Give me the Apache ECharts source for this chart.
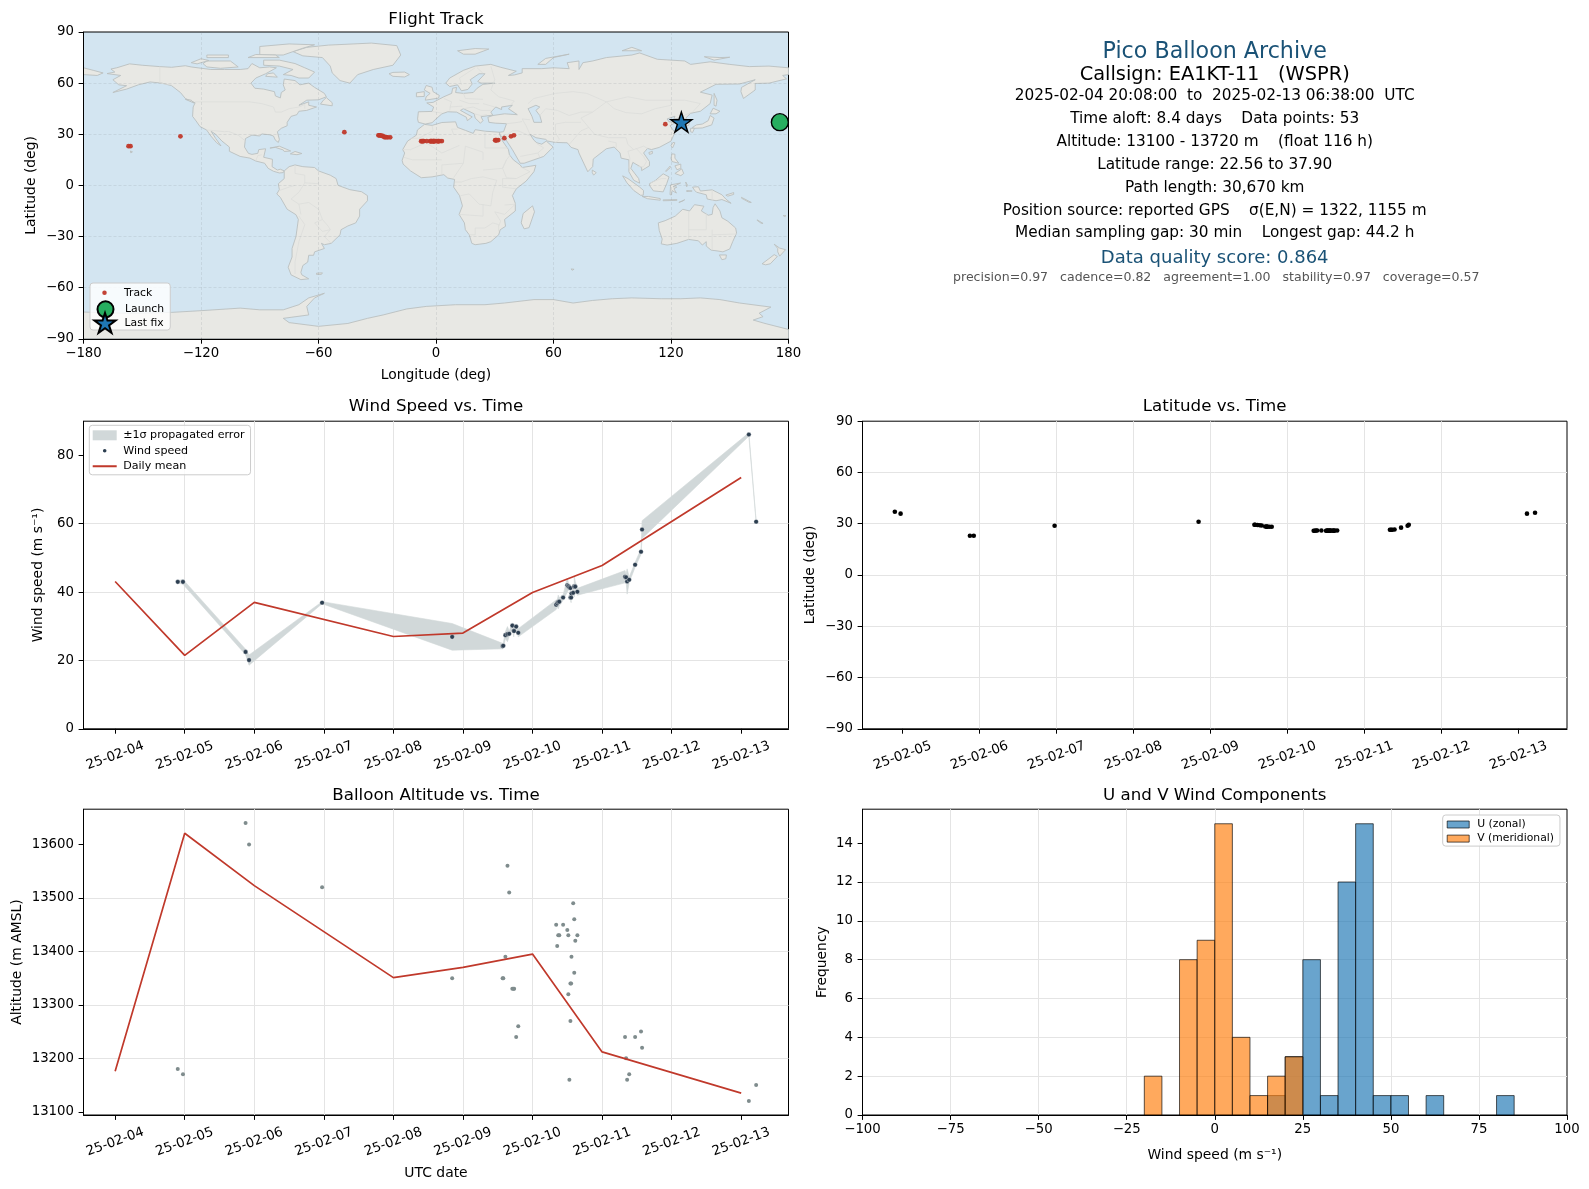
<!DOCTYPE html>
<html><head><meta charset="utf-8">
<script src="https://cdn.jsdelivr.net/npm/echarts@6/dist/echarts.min.js"></script>
<style>html,body{margin:0;padding:0;background:#fff}#c{width:1589px;height:1189px}</style>
</head><body><div id="c"></div>
<script>
// ---------- flight samples ----------
const sampleDays=[4.90,4.975,5.875,5.925,6.975,8.845,9.57,9.58,9.61,9.64,9.665,9.71,9.73,9.735,9.765,9.795,10.34,10.355,10.37,10.385,10.44,10.5,10.515,10.515,10.53,10.545,10.545,10.555,10.56,10.585,10.6,10.6,10.615,10.645,11.33,11.345,11.36,11.39,11.475,11.56,11.575,13.11,13.215];
const sampleLat=[37.0,35.9,23.0,23.0,28.8,31.2,29.4,29.4,29.3,29.1,29.0,28.4,28.3,28.3,28.2,28.2,25.9,25.9,26.0,26.0,26.0,25.9,25.9,26.0,26.0,25.9,25.9,25.9,26.0,26.0,25.9,25.9,26.0,26.0,26.5,26.5,26.5,26.6,27.7,28.8,29.4,35.9,36.4];
const sampleLon=[174,178,-157,-156,-130.5,-46.8,-29.4,-29,-28.4,-27.8,-27.2,-26.5,-25.9,-25.5,-24.6,-23.4,-7.6,-7,-6.6,-6.2,-4.7,-3,-2.6,-2.4,-2,-1.5,-1.3,-1,-.6,0,1,1.2,2,3,30.2,30.6,31,31.8,34.9,38.3,39.8,117.1,125.3];
const windSpeed=[43,43,22.5,20.1,36.9,26.9,24.2,24.3,27.4,27.7,27.8,30.2,28.7,28.6,29.9,28.1,36.3,36.7,37.1,37.2,38.4,42,41.7,41.7,41.4,41.2,38.4,38.4,39.6,39.8,41.6,41.6,41.6,40.1,44.5,44.3,43.1,43.6,48,51.8,58.3,86.1,60.6];
const windSigma=[.3,.7,.8,1.5,.3,3.9,.8,.8,1,2.2,.8,.8,1.8,.8,.8,1.2,1.4,1,2,1.2,.8,2,1.2,1,.8,.8,.8,1.5,.8,1,1.2,3,1.5,1,1.8,1,3.7,.8,.7,.8,2.6,.5,.2];
const altitude=[13180,13170,13640,13600,13520,13350,13350,13350,13390,13560,13510,13330,13330,13330,13240,13260,13450,13410,13430,13430,13450,13440,13430,13320,13160,13270,13340,13340,13390,13490,13460,13360,13420,13430,13240,13200,13160,13170,13240,13250,13220,13120,13150];
const meanWindDays=[4,5,6,8,9,10,11,13];
const meanWind=[43.1,21.5,37,27,28,39.9,47.8,73.5];
const meanAltDays=[4,5,6,8,9,10,11,13];
const meanAlt=[13176,13621,13523,13351,13370,13395,13212,13135];
const launchPoint=[175.6,37.1];
const lastFixPoint=[125.3,37.1];
// ---------- histogram bins: [left edge, right edge, count] ----------
const histU=[[15,20,1],[20,25,3],[25,30,8],[30,35,1],[35,40,12],[40,45,15],[45,50,1],[50,55,1],[60,65,1],[80,85,1]];
const histV=[[-20,-15,2],[-10,-5,8],[-5,0,9],[0,5,15],[5,10,4],[10,15,1],[15,20,2],[20,25,3]];
// ---------- tick labels ----------
const windDayTicks=[4,5,6,7,8,9,10,11,12,13];
const latDayTicks=[5,6,7,8,9,10,11,12,13];
const altTicks=[13100,13200,13300,13400,13500,13600];
const windTicks=[0,20,40,60,80];
const freqTicks=[0,2,4,6,8,10,12,14];
const dayLabel=d=>'25-02-'+String(d).padStart(2,'0');
const numLabel=v=>String(v).replace('-','\u2212');
// ---------- info panel ----------
const infoLines=[
 ['Pico Balloon Archive',52.6,22.2,'#1a5276'],
 ['Callsign: EA1KT-11   (WSPR)',74.8,19.4,'#000'],
 ['2025-02-04 20:08:00  to  2025-02-13 06:38:00  UTC',95.6,15.3,'#000'],
 ['Time aloft: 8.4 days    Data points: 53',119,15.3,'#000'],
 ['Altitude: 13100 - 13720 m    (float 116 h)',142,15.3,'#000'],
 ['Latitude range: 22.56 to 37.90',164.6,15.3,'#000'],
 ['Path length: 30,670 km',187.6,15.3,'#000'],
 ['Position source: reported GPS    σ(E,N) = 1322, 1155 m',210.6,15.3,'#000'],
 ['Median sampling gap: 30 min    Longest gap: 44.2 h',233,15.3,'#000'],
 ['Data quality score: 0.864',258.4,18,'#1a5276'],
 ['precision=0.97   cadence=0.82   agreement=1.00   stability=0.97   coverage=0.57',278.2,12.56,'#555']
];
// ---------- base map outlines (lon,lat) ----------
const northAmerica=[[-168,65.6],[-164,66.5],[-166,68.3],[-163,69],[-156.5,71.3],[-150,70.5],[-141,69.7],[-135,69.3],[-128,70.2],[-125,69.5],[-115,68],[-108,68],[-100,68],[-96,68.5],[-94,71.5],[-90,69],[-85,69.5],[-81.5,69],[-87,65.5],[-92,63],[-94.5,60],[-92.5,57],[-88,56.5],[-82.5,55],[-82,52.5],[-79.5,51.3],[-79,54.5],[-77,56],[-78,59],[-77.5,62.4],[-72,61.5],[-69.5,59],[-65,60],[-62,57.5],[-57,54],[-56,52],[-60,50.2],[-66,50],[-70,47],[-65,49],[-65,47],[-61,46],[-66,44],[-70,43.5],[-71,41.5],[-74,40.5],[-76,37],[-76,35],[-79,33.5],[-81,31.5],[-80,27],[-80.5,25.2],[-82,26.5],[-83,29],[-85,29.7],[-89,30.2],[-90,29],[-94,29.5],[-97.3,27.5],[-97.8,22.5],[-95.8,18.8],[-94,18.2],[-91,18.8],[-90.5,21],[-87,21.5],[-88,16.5],[-83.5,15.3],[-83.7,11],[-81,9],[-79.5,9.5],[-77.5,8.5],[-78,7.5],[-80,7.3],[-83,8.3],[-85.7,10],[-87.5,13],[-92,14.3],[-95,16],[-100,17],[-105.5,20],[-105.5,22.5],[-109.3,26],[-112.5,30],[-114.8,31.7],[-112.5,27.5],[-109.8,23.2],[-112,25],[-115,29],[-117.1,32.5],[-120.5,34.5],[-122.5,37.8],[-124.3,40.5],[-124,46],[-123,48.5],[-128,51],[-130.5,54.5],[-135,58.5],[-140,60],[-146,60.7],[-152,59],[-158,56.5],[-165,54.5],[-158,58.5],[-162,59],[-165,62],[-161,64.5]];
const southAmerica=[[-77.5,8.5],[-75,11],[-72,12],[-68,11],[-62,10.5],[-60,8.5],[-54,6],[-51,4],[-50,0],[-44,-2.5],[-38,-3.7],[-35,-6],[-35,-9],[-39,-14],[-39,-18],[-41,-22],[-45,-23.8],[-48.5,-26],[-49,-29],[-53.5,-34],[-57,-34.8],[-58.5,-34],[-57,-37],[-62,-39],[-62.5,-41],[-65,-41],[-65.5,-45],[-68,-47],[-69,-51],[-68.5,-52.5],[-65,-54.8],[-69,-55.3],[-74,-52.5],[-75.5,-48],[-73.5,-42],[-73.5,-37],[-71.5,-30],[-70.3,-20],[-71.5,-17.2],[-76,-14],[-79.5,-7],[-81.3,-5],[-80,-2.5],[-80.5,1],[-77.5,4]];
const africa=[[-5.9,35.8],[-2,35.2],[3,36.9],[10,37.3],[11,34],[15,32.3],[19,30.5],[20,32.7],[25,31.8],[32.4,31.2],[32.5,29.9],[34,26],[37,21],[37.5,18],[39.5,15],[43,12],[44,10.5],[51,11.8],[50,8],[46,2.5],[41,-2],[39,-6],[40.5,-10.5],[40.5,-15],[35,-20],[35.5,-24],[32.8,-26],[32,-29],[28,-33],[25.5,-34],[20,-34.8],[18.3,-34],[17,-29],[15,-26],[14.5,-22],[11.8,-17],[13.5,-12],[12,-6],[9,-1],[9.5,3.5],[6,4.3],[4,6.3],[-2,5],[-7.5,4.5],[-13,8.5],[-16.8,12.5],[-17.3,14.7],[-16,19],[-17,21],[-14.5,26],[-10,29.5],[-9.5,32.5]];
const eurasia=[[-9,37],[-9.4,39],[-9,43.2],[-2,43.4],[-1.2,46],[-4.7,48.4],[-1.5,48.7],[1.5,50.5],[4,52],[8,54],[8.5,57],[10.5,57.5],[10,54.5],[14,54],[19,54.5],[21,57],[24,59.3],[30,60],[23,60],[21.3,61],[25,65.5],[22,65.5],[17.5,62],[18.5,59.5],[16.3,56.3],[13,55.5],[11,59],[7,58],[5,60],[7,63],[14,67.5],[20,70],[28,71],[33,69.3],[41,67],[37,64.5],[40,64.8],[44,66],[44,68.5],[54,68.5],[60,69],[68,68.5],[67,72],[73,73],[73,68],[75,72],[80,73],[87,75],[100,76.5],[104,77.7],[113,74],[127,73],[130,71],[140,72.5],[150,71],[160,69.7],[170,70],[180,69],[180,65],[177,64.5],[179,62.5],[170,60],[163,59.8],[163,56],[157,51],[155.7,55],[156,57.5],[163,62],[155,59.5],[143,59.3],[135,54.7],[141,53],[140,48],[135,43.5],[130,42.3],[127.5,39.5],[129.5,37],[129,35.2],[126.5,34.5],[126.5,37.5],[125,39.6],[121.5,39],[122,40.6],[118,39],[119,37.3],[122.5,37],[119.5,35],[122,31],[120,26],[114,22.3],[110,21],[108,21.7],[106,19],[109,14],[109,11.5],[105,8.7],[105,10.5],[100.5,13.5],[99.5,10],[103.5,4],[104,1.3],[101,3],[98.5,8],[98.5,15],[94.5,16],[94,19],[91,22.5],[87,21.5],[80.3,15.5],[80,11],[77.5,8],[73,19],[72.5,21],[69,22.3],[67,25],[61,25.2],[57,26],[56,27],[51,28],[48,30],[50,26.5],[51.5,25],[54,24.2],[56.3,26],[59.8,22.5],[55,17],[45,13],[43,13],[39,21],[35,28],[34.7,29.5],[34.2,27.8],[32.6,29.9],[32.4,31.2],[34.5,31.5],[36,36.2],[30.5,36.5],[27,37],[26.5,40],[29,41],[35,42],[41.5,41.5],[37,45],[39,47],[33.5,46],[33.5,44.5],[30.5,46],[28,43],[29,41.2],[26,40.8],[23,40.3],[24,38],[22.7,36.5],[20,39.5],[19.5,42],[14,45],[12.5,44],[18.5,40.2],[16,38],[15.5,40],[10.5,43],[6,43.2],[3,42],[0,39],[-2,36.8],[-5.5,36]];
const chukotkaWest=[[-180,65],[-173,64.5],[-170,66],[-175,67.5],[-180,69]];
const greenland=[[-73,78.5],[-66,81],[-55,82.3],[-33,83.5],[-20,82],[-18,76.5],[-22,70.5],[-32,68],[-40,65],[-44,60],[-49,61.5],[-53,66],[-54,70],[-58,75],[-68,76]];
const australia=[[113.5,-22],[114,-26.5],[115.5,-31.5],[115,-34.3],[118,-35],[123,-34],[129,-31.7],[134,-32.5],[136,-35],[138,-33],[138,-35.6],[140.5,-38],[144,-38.5],[146.5,-39],[150,-37.3],[151.5,-33],[153.5,-28],[153,-25],[149,-21],[146,-19],[145,-15],[142.5,-10.8],[141.5,-13],[141,-17],[139,-17.5],[135.5,-15],[136.8,-12.2],[132,-11.3],[129.5,-15],[126,-14],[122.2,-18],[117,-20.7]];
const antarctica=[[-180,-90],[-180,-74.3],[-160,-75],[-150,-75],[-135,-74.5],[-120,-73.5],[-100,-72],[-90,-73],[-78,-73],[-70,-70],[-65,-66],[-57,-63.3],[-62,-66],[-66,-71],[-65,-76],[-78,-78],[-75,-80.5],[-60,-82.7],[-45,-81],[-35,-78],[-27,-76],[-15,-72.5],[-5,-71],[10,-70],[25,-70],[35,-69],[50,-67],[60,-67],[70,-69],[80,-67.5],[90,-66.5],[100,-66],[115,-66.5],[125,-66.5],[135,-66],[145,-67],[155,-69],[171,-71.4],[165,-75],[167,-77],[162,-79],[168,-81],[180,-84.5],[180,-90]];
const islands=[
 [[-80,73.5],[-72,71.5],[-67,69],[-62,66.5],[-65,63],[-70,63],[-74,64.5],[-78,65],[-73,68],[-80,70],[-88,70.5],[-88,73.5]],
 [[-117,73],[-105,73],[-101,69.5],[-110,68.7],[-117,69.5],[-119,71.5]],
 [[-125,72],[-120,74.3],[-116,73.3],[-122,71.3]],
 [[-90,76.5],[-78,76.5],[-68,80.5],[-62,82.5],[-75,83],[-90,81.5]],
 [[-96,75],[-80,75],[-82,76.5],[-92,76.8]],
 [[-117,75],[-106,75],[-106,76.5],[-117,76.5]],
 [[-59,47.7],[-53,46.7],[-53,48.5],[-56,51.5],[-57.5,50]],
 [[-87,64],[-81,63.5],[-83,66],[-86,65.5]],
 [[-128,50.5],[-123.5,48.3],[-125,50]],
 [[-84.8,21.9],[-80,23],[-74.2,20.2],[-77.5,19.9],[-78,20.8],[-82,22.3]],
 [[-74.4,18.5],[-72,19.9],[-68.5,18.7],[-71,18]],
 [[-61,-51.5],[-58,-51.3],[-58.5,-52.2],[-61,-52.2]],
 [[-156,20.2],[-155,19.7],[-155.8,19],[-156,19.5]],
 [[49.3,-12],[50.3,-15.5],[47.5,-24.8],[45,-25.5],[43.5,-22],[44.5,-16.5]],
 [[-5.5,50],[1.3,51.2],[1.7,52.8],[-1.5,55],[-2,57.6],[-5,58.6],[-6,56],[-3,54],[-5,52]],
 [[-10,52],[-6,52.2],[-6,55],[-10,54.3]],
 [[-24,65.5],[-22,64],[-16,63.6],[-13.6,65],[-16,66.5],[-22,66.3]],
 [[11,79],[20,80.3],[27,80],[20,77],[14,77]],
 [[52,71],[56,71],[60,75],[68,77],[56,74.5]],
 [[95,79],[105,79],[100,81]],
 [[137,75.5],[145,75],[150,75.2],[142,73.5]],
 [[142,54],[143.5,50],[143,46.5],[142,47],[142,52]],
 [[140,42],[141.5,45.3],[145,43.5],[143,42]],
 [[130.9,34],[133,35.5],[136,36],[139,38],[140,41],[142,39.5],[140.8,35.5],[136,33.7],[132,33.5]],
 [[130,33.5],[132,33.5],[131,31],[130,31.5]],
 [[121,25.2],[122,25],[120.8,22],[120,23.3]],
 [[108.7,19.3],[110.5,20],[110.5,18.7],[109,18.2]],
 [[79.8,9],[81.8,7.5],[80.5,6],[79.8,7.5]],
 [[120.5,18.5],[122,18.3],[122,16],[124,13],[120.5,14],[120,16]],
 [[122,7],[125.5,9.7],[126.5,7],[125,5.7]],
 [[122,11.5],[125,12.5],[125,10],[123,9.2]],
 [[117.2,8.3],[119.5,11.3],[119.7,10.5],[117.5,8.2]],
 [[95.3,5.6],[98,4],[104,-1],[106,-3],[105.8,-5.8],[104.5,-5.8],[101,-3],[97.5,1.5]],
 [[105.3,-6.5],[108.5,-6.5],[114.5,-7.7],[114.5,-8.7],[108,-7.8]],
 [[109,1],[112,2.9],[116,6.8],[119,5],[117.8,1],[116,-3.8],[111,-3.2],[109.2,-.3]],
 [[119.5,-5.5],[119.8,.3],[124.9,1.4],[121,-.8],[123,-1],[121.5,-2],[122.8,-4.5],[120.5,-3],[120.3,-5.5]],
 [[131,-1],[134,-.8],[135,-3.3],[141,-2.6],[146,-5.5],[148,-8],[150.7,-10.5],[146,-8.3],[143,-9],[138.5,-8],[138,-5.5],[133,-4],[132,-2.8]],
 [[124,-10],[127,-8.4],[126,-9.2]],
 [[116,-8.5],[123,-8.3],[123,-8.8],[116,-9]],
 [[127.5,2],[128.5,0],[128,-.8]],
 [[128,-3],[130.8,-3.3],[128,-3.6]],
 [[148,-5.7],[152,-4.2],[152,-5.3],[149,-6.3]],
 [[156,-7],[161,-10],[160,-10],[156,-7.5]],
 [[164,-20.2],[167,-22.3],[166,-22.2],[164,-20.5]],
 [[177.3,-17.7],[178.7,-17.8],[178,-18.3]],
 [[69,-49],[70.5,-49.2],[69.5,-49.8]],
 [[144.7,-40.8],[148.3,-40.8],[148,-43],[146,-43.6]],
 [[172.7,-34.5],[175.5,-36.8],[178.5,-37.7],[175.5,-41.5],[174.5,-39],[174.5,-37]],
 [[172.7,-40.6],[174.3,-41.7],[170.7,-46],[168.3,-46.6],[166.5,-46],[170,-43]]
];
const caspianSea=[[47,45],[51,47],[53,46],[51,44],[53,41],[54,37],[50,37],[49,40.5]];
const borders=[
 [[-123,49],[-95,49],[-89,48],[-83,46],[-82,43],[-79,43],[-75,45],[-70,46],[-67,47.5],[-67,45]],
 [[-141,69.7],[-141,60],[-135,59]],[[-117,32.5],[-108,31.5],[-106,31.7],[-101,29.5],[-97.3,26]],[[-92,14.5],[-91,17.5],[-89,18]],
 [[-72,12],[-72,7],[-67,6],[-67,1.5]],[[-60,5],[-60,1],[-67,1.5],[-70,-4],[-74,-8],[-70,-11],[-65,-10],[-60,-14],[-58,-20],[-55,-24],[-54,-26],[-57,-30],[-53.5,-34]],
 [[-70,-18],[-67,-23],[-70,-33],[-72,-45],[-72,-52]],[[-70,-11],[-69,-17]],[[-58,-20],[-62,-22],[-58,-27],[-54,-26]],[[-80,-3],[-75,-1],[-72,0]],
 [[-13,27.7],[-8.7,27.7],[-1.5,32],[-2,35]],[[-8.7,27.7],[-5,25],[3,19],[12,23.5]],[[9,30],[8,33],[11,33]],[[25,31.8],[25,22],[36.8,22]],[[15,23],[24,19.5],[24,15]],
 [[24,9],[34,10],[36,15],[38,18]],[[3,12],[14,13],[15,23]],[[3,6.5],[3,12]],[[14,13],[9,4.5]],[[12.5,-6],[17,-5],[22,-11],[28,-12],[29,-4],[31,3],[24,5],[18,4],[13,2],[9.5,2]],
 [[12,-17],[24,-18],[24,-11]],[[17,-29],[20,-29],[20,-25],[25,-25],[29,-22],[32,-23],[32,-27]],[[35,-11.5],[40.5,-11],[35,-17],[30,-15.5],[33,-21],[32,-24]],
 [[41,-2],[34,-1],[34,4],[41,4]],[[36,15],[34,10],[36,4.5],[41,4],[48,8],[43,11]],[[-12,15],[-5,15],[3,15]],[[-17,21],[-13,21],[-5,25]],[[-16.5,16.5],[-12,15]],
 [[-1.8,43.3],[3,42.4]],[[4,51],[8,49],[7.5,47.5],[7,44]],[[14,54],[15,51],[24,50.5]],[[28,70],[30,62],[28,56],[32,52],[40,49.5],[38,47]],[[24,48],[30,46]],[[12,50],[17,48],[22,48]],[[7,46],[13.5,46.5]],
 [[14,45],[19,46],[23,44],[28,44]],[[19.5,42],[23,41],[26,41.5]],[[24,65.8],[21,69]],[[13,59],[12,63],[20,69]],
 [[47,48],[50,51],[61,54],[70,55],[77,54],[87,49]],[[87,49],[98,52],[107,50],[120,50],[127,50],[135,48],[131,43]],[[87,49],[91,45],[97,42.7],[105,42],[112,45],[120,47],[120,50]],
 [[87,49],[80,43],[74,39.5],[78,34],[81,30],[88,28],[97,28],[98,24],[101,21],[106,23],[108,21.7]],[[53,41],[56,45],[62,44],[68,41],[74,43],[80,43]],[[61,25],[63,27],[61,31],[61,36],[66,37],[74,37]],[[68,24],[71,28],[74,32],[78,34]],
 [[48,30],[46,35],[44,39],[48,38.5]],[[36,36.2],[42,37],[44,37.5]],[[48,29],[42,32],[39,32],[36,29.5]],[[43,17],[52,19],[55,22],[51.5,24.5]],[[52,19],[53,16.5]],
 [[88,26],[92,25],[92,22]],[[98.5,10],[99,16],[98,20],[101,21]],[[102,22],[106,17],[107.5,14],[106,11],[103,11]],
 [[129,-15],[129,-31.7]],[[138,-16],[138,-26],[129,-26]],[[141,-26],[141,-38]],[[141,-29],[153.5,-28.5]],[[124.5,40],[130,42.7]],[[126,38],[128.5,38.5]],[[141,-2.6],[141,-9]],[[109.5,1.5],[115,4],[117.5,4]]
];

// ---------- styling ----------
const font='"DejaVu Sans"';
const TICK=13.3,LABEL=13.9,TITLE=16.67;
const OCEAN='#d3e5f1',LAND='#e8e8e4',COAST='#babfbf',BORDER='#dcdddb',RED='#c0392b',NAVY='#2c3e50',GREY='#7f8c8d',BAND='#d1d8d9',GRID='#e4e4e4';
const landPolys=[northAmerica,southAmerica,africa,eurasia,chukotkaWest,greenland,australia,antarctica,...islands];
const starIcon='path://M50 0L61.2 34.5L97.6 34.5L68.2 55.9L79.4 90.5L50 69.1L20.6 90.5L31.8 55.9L2.4 34.5L38.8 34.5Z';
const dotIcon='path://M0 0L.01 0M100 100L100 99.99M50 32A18 18 0 1 1 50 68A18 18 0 1 1 50 32Z';
const lineIcon='path://M0 0L.01 0M240 100L240 99.99M0 40L240 40L240 60L0 60Z';

const grids=[
 {left:83.5,top:32,width:705,height:306.8},
 {left:83.5,top:421.2,width:705,height:307.6},
 {left:862.5,top:421.2,width:704.5,height:307.6},
 {left:83.5,top:809.2,width:705,height:305.8},
 {left:862.5,top:809.2,width:704.5,height:305.8}
].map((g,i)=>Object.assign({show:true,borderColor:'#000',borderWidth:1,backgroundColor:i===0?OCEAN:'#fff',containLabel:false},g));

function baseAxis(idx,isX,extra){
 return Object.assign({gridIndex:idx,type:'value',nameMoveOverlap:false,
  axisLine:{show:true,onZero:false,lineStyle:{color:'#000',width:1}},
  axisTick:{show:true,length:4.9,lineStyle:{color:'#000',width:1}},
  axisLabel:{fontFamily:font,fontSize:TICK,color:'#000',margin:isX?8:9.5,hideOverlap:false,formatter:numLabel},
  splitLine:{show:true,showMinLine:false,showMaxLine:false,lineStyle:{color:GRID,width:1}},
  nameTextStyle:{fontFamily:font,fontSize:LABEL,color:'#000'},nameLocation:'middle'},extra);
}
function withTicks(a,ticks){
 a.axisLabel=Object.assign({},a.axisLabel,{customValues:ticks});
 a.axisTick=Object.assign({},a.axisTick,{customValues:ticks});
 return a;
}
function dayAxis(idx,min,max,ticks,name,gap){
 const a=baseAxis(idx,true,{min,max,name:name||'',nameGap:gap||48});
 a.axisLabel=Object.assign({},a.axisLabel,{rotate:20,align:'center',verticalAlign:'middle',margin:27,customValues:ticks,formatter:v=>dayLabel(v)});
 a.axisTick=Object.assign({},a.axisTick,{customValues:ticks});
 return a;
}
const mapGrid={show:true,showMinLine:false,showMaxLine:false,lineStyle:{color:'rgba(120,130,135,.2)',width:.8,type:[3,2]}};
const xAxes=[
 baseAxis(0,true,{min:-180,max:180,interval:60,z:5,name:'Longitude (deg)',nameGap:30,splitLine:mapGrid}),
 dayAxis(1,3.545,13.68,windDayTicks),
 dayAxis(2,4.48,13.63,latDayTicks),
 dayAxis(3,3.545,13.68,windDayTicks,'UTC date',51),
 baseAxis(4,true,{min:-100,max:100,interval:25,name:'Wind speed (m s⁻¹)',nameGap:33})
];
const yAxes=[
 baseAxis(0,false,{min:-90,max:90,interval:30,z:5,name:'Latitude (deg)',nameGap:45,splitLine:mapGrid}),
 withTicks(baseAxis(1,false,{min:0,max:90,name:'Wind speed (m s⁻¹)',nameGap:38}),windTicks),
 baseAxis(2,false,{min:-90,max:90,interval:30,name:'Latitude (deg)',nameGap:45}),
 withTicks(baseAxis(3,false,{min:13094,max:13666,name:'Altitude (m AMSL)',nameGap:59}),altTicks),
 withTicks(baseAxis(4,false,{min:0,max:15.75,name:'Frequency',nameGap:33.5}),freqTicks)
];

function polyItem(fill,stroke,width){
 return function(list){return function(params,api){
  const pts=list[params.dataIndex].map(p=>api.coord(p));
  return {type:'polygon',shape:{points:pts},style:{fill:fill,stroke:stroke,lineWidth:width}};
 };};
}
function barRender(fill){
 return function(params,api){
  const a=api.coord([api.value(0),0]),b=api.coord([api.value(1),api.value(2)]);
  return {type:'rect',shape:{x:a[0],y:b[1],width:b[0]-a[0],height:a[1]-b[1]},style:{fill:fill,stroke:'rgba(0,0,0,.65)',lineWidth:1}};
 };
}
const zip=(a,b)=>a.map((v,i)=>[v,b[i]]);
const series=[
 {name:'land',type:'custom',xAxisIndex:0,yAxisIndex:0,z:2,silent:true,clip:true,data:landPolys.map((_,i)=>[i]),renderItem:polyItem(LAND,COAST,.9)(landPolys)},
 {name:'borders',type:'custom',xAxisIndex:0,yAxisIndex:0,z:3,silent:true,clip:true,data:borders.map((_,i)=>[i]),
  renderItem:(params,api)=>({type:'polyline',shape:{points:borders[params.dataIndex].map(p=>api.coord(p))},style:{fill:'none',stroke:BORDER,lineWidth:.8}})},
 {name:'caspian',type:'custom',xAxisIndex:0,yAxisIndex:0,z:3,silent:true,clip:true,data:[[0]],renderItem:polyItem(OCEAN,COAST,.9)([caspianSea])},
 {name:'Track',type:'scatter',xAxisIndex:0,yAxisIndex:0,z:6,symbolSize:4.8,itemStyle:{color:RED,opacity:.95},data:zip(sampleLon,sampleLat)},
 {name:'Launch',type:'scatter',xAxisIndex:0,yAxisIndex:0,z:7,symbolSize:17,clip:false,itemStyle:{color:'#27ae60',borderColor:'#000',borderWidth:1.4,opacity:1},data:[launchPoint]},
 {name:'Last fix',type:'scatter',xAxisIndex:0,yAxisIndex:0,z:7,symbol:starIcon,symbolSize:[21,20],itemStyle:{color:'#1f77b4',borderColor:'#000',borderWidth:1.4,opacity:1},data:[lastFixPoint]},

 {name:'±1σ propagated error',type:'custom',xAxisIndex:1,yAxisIndex:1,z:2,silent:true,data:[[0]],itemStyle:{color:BAND},
  renderItem:(params,api)=>{
   const up=sampleDays.map((d,i)=>api.coord([d,windSpeed[i]+windSigma[i]]));
   const lo=sampleDays.map((d,i)=>api.coord([d,windSpeed[i]-windSigma[i]])).reverse();
   return {type:'polygon',shape:{points:up.concat(lo)},style:{fill:BAND,stroke:BAND,lineWidth:.6}};
  }},
 {name:'Wind speed',type:'scatter',xAxisIndex:1,yAxisIndex:1,z:4,symbolSize:4.6,itemStyle:{color:NAVY,borderColor:'rgba(255,255,255,.7)',borderWidth:.5,opacity:1},data:zip(sampleDays,windSpeed)},
 {name:'Daily mean',type:'line',xAxisIndex:1,yAxisIndex:1,z:5,symbol:'none',lineStyle:{color:RED,width:1.7},itemStyle:{color:RED},data:zip(meanWindDays,meanWind)},

 {name:'lat',type:'scatter',xAxisIndex:2,yAxisIndex:2,z:4,symbolSize:4.6,itemStyle:{color:'#000',opacity:1},data:zip(sampleDays,sampleLat)},

 {name:'alt',type:'scatter',xAxisIndex:3,yAxisIndex:3,z:4,symbolSize:4,itemStyle:{color:GREY,opacity:1},data:zip(sampleDays,altitude)},
 {name:'altMean',type:'line',xAxisIndex:3,yAxisIndex:3,z:5,symbol:'none',lineStyle:{color:RED,width:1.7},data:zip(meanAltDays,meanAlt)},

 {name:'U (zonal)',type:'custom',xAxisIndex:4,yAxisIndex:4,z:3,silent:true,itemStyle:{color:'rgba(31,119,180,.67)'},data:histU,renderItem:barRender('rgba(31,119,180,.67)')},
 {name:'V (meridional)',type:'custom',xAxisIndex:4,yAxisIndex:4,z:4,silent:true,itemStyle:{color:'rgba(255,127,14,.67)'},data:histV,renderItem:barRender('rgba(255,127,14,.67)')}
];

const lgText={fontFamily:font,color:'#000'};
const legends=[
 {show:true,selectedMode:false,orient:'vertical',left:90,top:283,z:30,padding:[4.3,18,31.7,12.25],backgroundColor:'rgba(255,255,255,.82)',borderColor:'#ccc',borderWidth:1,borderRadius:3,
  itemWidth:29,itemHeight:4.5,textStyle:Object.assign({fontSize:10.8},lgText),data:[{name:'Track',icon:'circle'}]},
 {show:true,selectedMode:false,orient:'vertical',left:96.5,top:300.3,z:31,padding:0,itemWidth:29,itemHeight:16,textStyle:Object.assign({fontSize:10.8},lgText),data:[{name:'Launch',icon:'circle'}]},
 {show:true,selectedMode:false,orient:'vertical',left:93.5,top:312,z:32,padding:0,itemWidth:29,itemHeight:20,textStyle:Object.assign({fontSize:10.8},lgText),data:[{name:'Last fix',icon:starIcon}]},
 {show:true,selectedMode:false,orient:'vertical',left:89.3,top:425.3,z:30,padding:[4.5,6,3,3.4],itemGap:4.5,backgroundColor:'rgba(255,255,255,.82)',borderColor:'#ccc',borderWidth:1,borderRadius:3,
  itemWidth:24,itemHeight:10,textStyle:Object.assign({fontSize:11.1,padding:[0,0,0,1.5]},lgText),
  data:[{name:'±1σ propagated error',icon:'rect'},{name:'Wind speed',icon:dotIcon,itemStyle:{borderWidth:0}},{name:'Daily mean',icon:lineIcon,itemStyle:{borderWidth:0}}]},
 {show:true,selectedMode:false,orient:'vertical',left:1442.7,top:815,z:30,padding:[4,6,2,4],itemGap:3.1,backgroundColor:'rgba(255,255,255,.82)',borderColor:'#ccc',borderWidth:1,borderRadius:3,
  itemWidth:22,itemHeight:7,textStyle:Object.assign({fontSize:10.8,padding:[0,0,0,3]},lgText),
  data:[{name:'U (zonal)',icon:'rect',itemStyle:{borderColor:'rgba(0,0,0,.65)',borderWidth:1}},{name:'V (meridional)',icon:'rect',itemStyle:{borderColor:'rgba(0,0,0,.65)',borderWidth:1}}]}
];

const panelTitle=(t,x,y)=>({text:t,left:x,top:y,padding:0,textAlign:'center',textVerticalAlign:'middle',textStyle:{fontFamily:font,fontWeight:'normal',fontSize:TITLE,color:'#000'}});
const titles=[
 panelTitle('Flight Track',436,20),
 panelTitle('Wind Speed vs. Time',436,407),
 panelTitle('Latitude vs. Time',1214.7,407),
 panelTitle('Balloon Altitude vs. Time',436,796),
 panelTitle('U and V Wind Components',1214.7,796)
].concat(infoLines.map((l,i)=>({text:l[0],left:i===10?1216.3:1214.7,top:l[1],padding:0,textAlign:'center',textVerticalAlign:'middle',textStyle:{fontFamily:font,fontWeight:'normal',fontSize:l[2],color:l[3]}})));

const chart=echarts.init(document.getElementById('c'),null,{renderer:'canvas'});
chart.setOption({animation:false,backgroundColor:'#fff',textStyle:{fontFamily:font},title:titles,legend:legends,grid:grids,xAxis:xAxes,yAxis:yAxes,series:series,tooltip:{show:false}});
</script></body></html>
